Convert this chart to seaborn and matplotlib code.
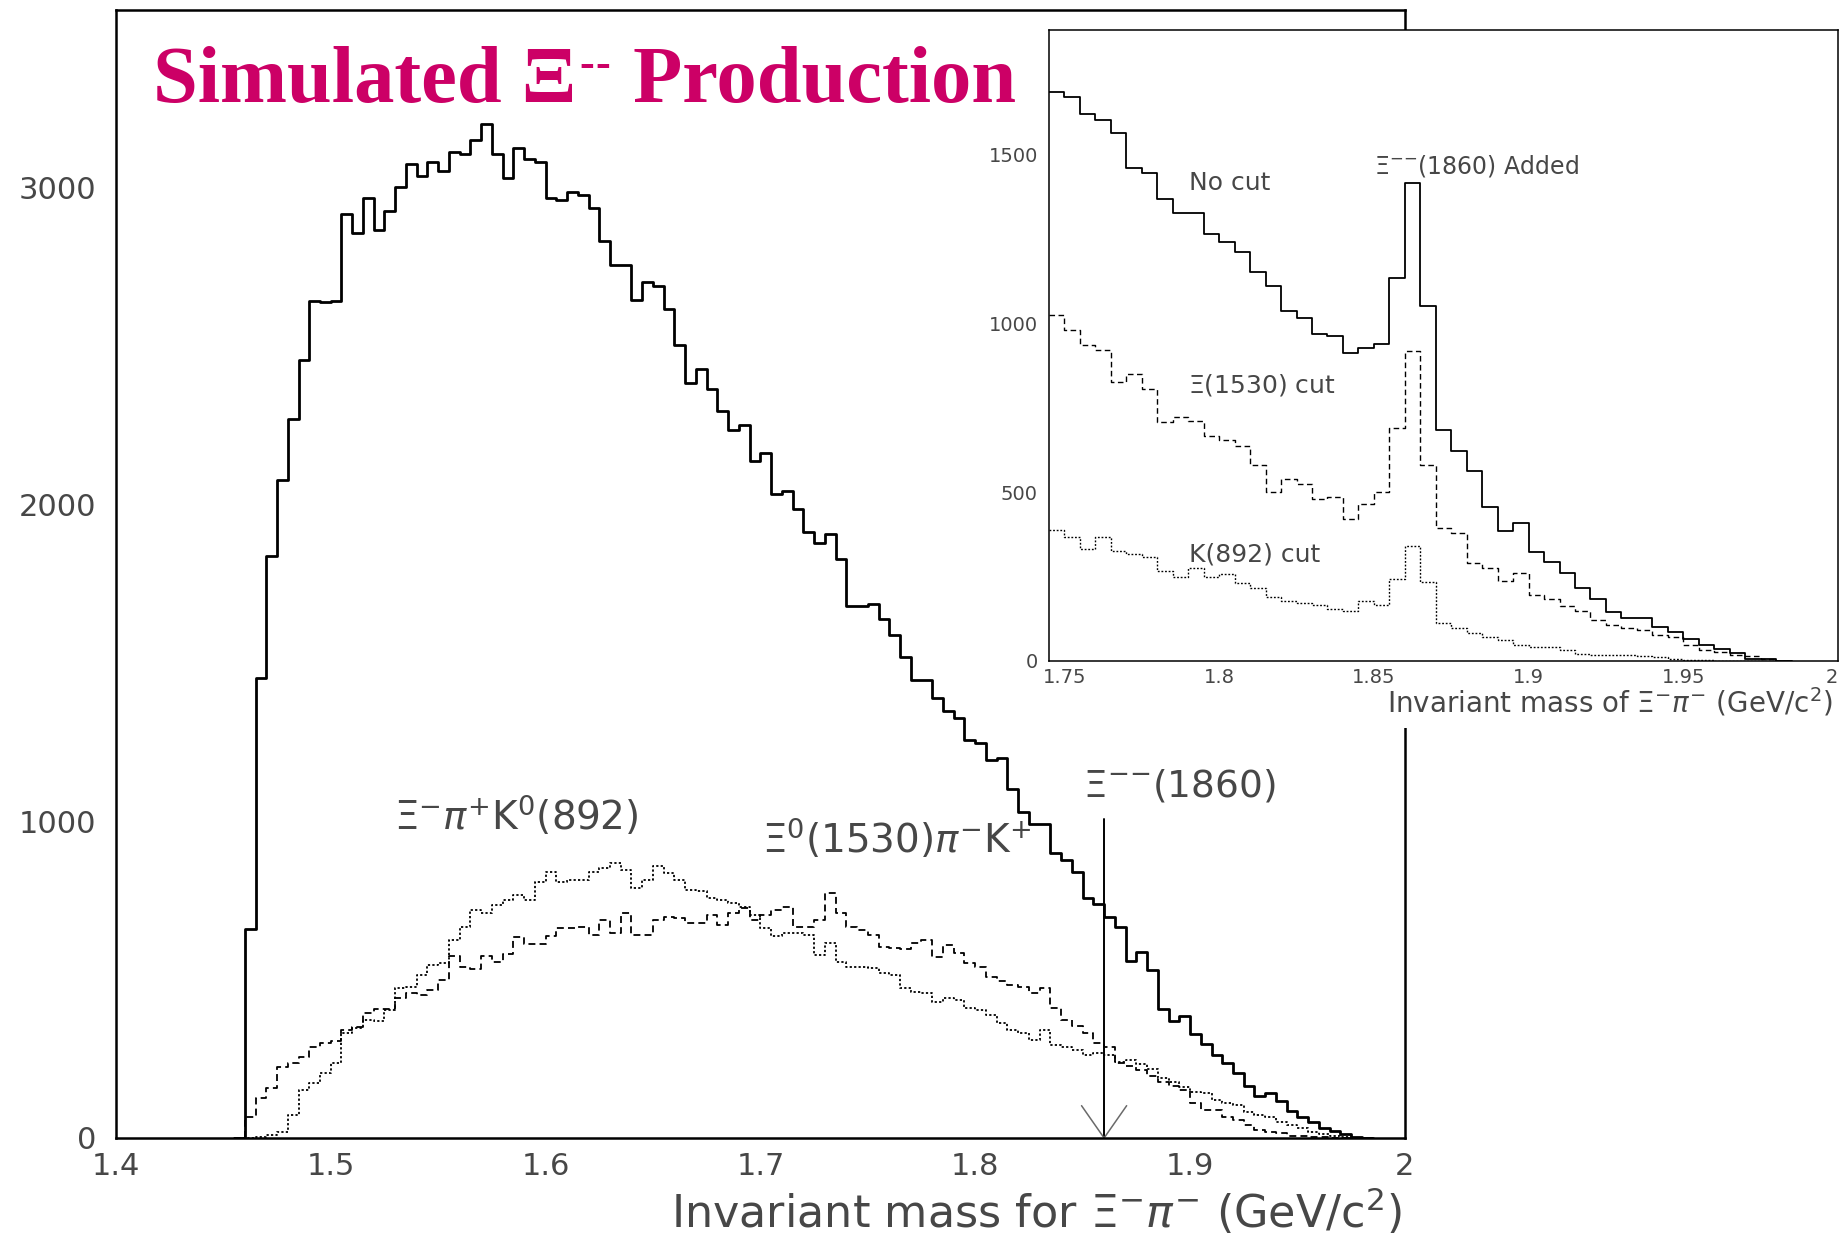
import numpy as np
import pandas as pd
import matplotlib
matplotlib.use("Agg")
import matplotlib.pyplot as plt
import seaborn as sns
from matplotlib.patches import Rectangle

# ---------------- data ----------------
BIN = 0.005                 # GeV/c^2 per bin
MAIN_START = 1.455          # first (empty) bin of the main histograms
INSET_START = 1.745         # first bin of the inset histograms

# main panel: all Xi- pi- combinations
main_no_cut = [
    0, 661, 1453, 1837, 2076, 2268, 2456, 2642, 2637, 2642, 2916,
    2856, 2968, 2866, 2926, 3000, 3074, 3037, 3081, 3053, 3111,
    3105, 3149, 3200, 3105, 3029, 3126, 3089, 3082, 2968, 2961,
    2986, 2977, 2934, 2830, 2756, 2756, 2644, 2703, 2690, 2616,
    2502, 2383, 2427, 2363, 2295, 2234, 2250, 2137, 2161, 2034,
    2041, 1985, 1914, 1879, 1907, 1827, 1679, 1679, 1685, 1638,
    1586, 1519, 1445, 1445, 1388, 1349, 1325, 1256, 1248, 1194,
    1200, 1101, 1028, 990, 990, 898, 878, 840, 756, 737,
    698, 666, 558, 586, 530, 408, 369, 385, 328, 298,
    263, 237, 204, 163, 133, 143, 117, 85, 66, 49,
    33, 21, 12, 4, 0,
]

# Xi0(1530) pi- K+ background (dashed)
main_xi1530 = [
    0, 67, 127, 157, 225, 236, 257, 286, 299, 305, 341,
    351, 393, 406, 406, 441, 457, 450, 467, 500, 573,
    541, 532, 573, 557, 581, 634, 613, 613, 636, 662,
    662, 667, 641, 688, 648, 709, 641, 641, 688, 697,
    693, 678, 678, 704, 673, 709, 725, 688, 704, 720,
    728, 667, 667, 688, 773, 709, 665, 657, 641, 604,
    599, 596, 615, 625, 570, 609, 583, 552, 541, 509,
    494, 483, 478, 459, 473, 410, 373, 352, 330, 299,
    288, 236, 228, 215, 195, 178, 165, 150, 110, 88,
    88, 67, 57, 41, 25, 20, 15, 6, 6, 3,
    2, 1, 0, 0, 0,
]

# Xi- pi+ K0(892) background (dotted)
main_k892 = [
    0, 0, 3, 10, 20, 73, 152, 173, 204, 236, 331,
    346, 373, 368, 404, 473, 478, 515, 546, 552, 625,
    667, 720, 709, 736, 752, 767, 752, 809, 841, 809,
    815, 815, 841, 852, 869, 846, 788, 815, 857, 836,
    815, 783, 778, 757, 752, 741, 730, 704, 662, 636,
    648, 648, 641, 578, 615, 557, 541, 541, 536, 520,
    515, 473, 462, 457, 430, 441, 436, 410, 404, 388,
    362, 341, 330, 309, 341, 294, 286, 278, 262, 268,
    262, 240, 246, 232, 218, 190, 178, 160, 146, 141,
    120, 110, 104, 83, 73, 67, 52, 41, 30, 20,
    12, 6, 4, 0, 0,
]

# inset: signal region with Xi--(1860) added
inset_no_cut = [
    1687, 1670, 1620, 1602, 1565, 1462, 1446, 1368, 1327, 1327,
    1266, 1241, 1212, 1153, 1112, 1037, 1017, 969, 962, 912,
    926, 938, 1135, 1416, 1051, 684, 623, 562, 456, 386,
    410, 322, 293, 262, 215, 184, 145, 126, 126, 102,
    85, 65, 47, 36, 23, 5, 5, 0,
]
inset_xi1530_cut = [
    1024, 980, 935, 922, 826, 849, 806, 708, 724, 711,
    666, 656, 636, 581, 500, 538, 524, 479, 486, 421,
    466, 502, 690, 919, 581, 394, 378, 290, 274, 236,
    261, 194, 183, 163, 148, 120, 108, 97, 92, 76,
    70, 47, 33, 26, 18, 15, 5, 0,
]
inset_k892_cut = [
    388, 366, 333, 368, 326, 316, 308, 268, 249, 274,
    249, 258, 230, 215, 190, 177, 172, 165, 155, 147,
    179, 165, 242, 342, 235, 111, 98, 84, 70, 62,
    48, 42, 40, 32, 20, 18, 17, 18, 16, 12,
    7, 3, 2, 1, 0, 0, 0, 0,
]

main_xticks = [1.4, 1.5, 1.6, 1.7, 1.8, 1.9, 2.0]
main_xticklabels = ["1.4", "1.5", "1.6", "1.7", "1.8", "1.9", "2"]
main_yticks = [0, 1000, 2000, 3000]
inset_xticks = [1.75, 1.8, 1.85, 1.9, 1.95, 2.0]
inset_xticklabels = ["1.75", "1.8", "1.85", "1.9", "1.95", "2"]
inset_yticks = [0, 500, 1000, 1500]
signal_mass = 1.86

# ---------------- style ----------------
sns.set_style("white")
plt.rcParams.update({
    "font.family": ["DejaVu Sans"],
    "mathtext.fontset": "dejavusans",
    "lines.scale_dashes": False,
    "axes.edgecolor": "black",
    "xtick.color": "black",
    "ytick.color": "black",
})
TXT = "#474747"
TITLE_C = "#CC0066"
XIMM = r"$\Xi^{{-}{-}}$"


def step_hist(ax, counts, start, **kw):
    n = len(counts)
    df = pd.DataFrame({
        "mass": start + BIN * (np.arange(n) + 0.5),
        "count": counts,
    })
    edges = [start + BIN * i for i in range(n + 1)]
    sns.histplot(data=df, x="mass", weights="count", bins=edges,
                 element="step", fill=False, ax=ax, **kw)


fig = plt.figure(figsize=(18.4, 12.41), dpi=100)

# ---------------- main panel ----------------
ax = fig.add_axes([0.0630, 0.0830, 0.7005, 0.9089], zorder=1)
step_hist(ax, main_k892, MAIN_START, color="black", linewidth=1.3,
          linestyle=(0, (1.6, 1.6)))
step_hist(ax, main_xi1530, MAIN_START, color="black", linewidth=1.3,
          linestyle=(0, (5, 3)))
step_hist(ax, main_no_cut, MAIN_START, color="black", linewidth=2.0)

ax.set_xlim(1.4, 2.0)
ax.set_ylim(0, 3560)
ax.set_xticks(main_xticks)
ax.set_xticklabels(main_xticklabels)
ax.set_yticks(main_yticks)
ax.set_yticklabels([str(v) for v in main_yticks])
ax.tick_params(direction="in", length=19, width=1.5, labelsize=22,
               labelcolor=TXT)
ax.tick_params(axis="y", pad=14)
ax.tick_params(axis="x", pad=10)
ax.set_xlabel("")
ax.set_ylabel("")
for s in ax.spines.values():
    s.set_visible(True)
    s.set_linewidth(1.8)
    s.set_color("black")

# marker for the Xi--(1860) position
ax.plot([signal_mass, signal_mass], [0, 1008], color="black", lw=1.4)
ax.plot([signal_mass - 0.0105, signal_mass, signal_mass + 0.0105],
        [102, 0, 102], color="#6a6a6a", lw=1.1)

ax.text(1.5295, 973, r"$\Xi^{-}\pi^{+}$K$^{0}$(892)", fontsize=28,
        color=TXT, va="baseline", ha="left")
ax.text(1.7009, 901, r"$\Xi^{0}$(1530)$\pi^{-}$K$^{+}$", fontsize=28,
        color=TXT, va="baseline", ha="left")
ax.text(1.8501, 1077, XIMM + "(1860)", fontsize=27,
        color=TXT, va="baseline", ha="left")

fig.text(1402 / 1840, (1241 - 1228) / 1241,
         r"Invariant mass for $\Xi^{-}\pi^{-}$ (GeV/c$^{2}$)",
         fontsize=32, color=TXT, ha="right", va="baseline")

# white band under the inset (hides the main frame behind its labels)
fig.patches.append(Rectangle((1040 / 1840, (1241 - 728) / 1241),
                             800 / 1840, 67 / 1241,
                             transform=fig.transFigure, facecolor="white",
                             edgecolor="none", zorder=2))

# ---------------- inset ----------------
ins = fig.add_axes([0.5701, 0.4674, 0.4288, 0.5085], zorder=3)
ins.set_facecolor("white")
step_hist(ins, inset_k892_cut, INSET_START, color="black", linewidth=1.0,
          linestyle=(0, (1.3, 1.3)))
step_hist(ins, inset_xi1530_cut, INSET_START, color="black", linewidth=1.0,
          linestyle=(0, (4, 2.5)))
step_hist(ins, inset_no_cut, INSET_START, color="black", linewidth=1.3)
ins.set_xlim(1.745, 2.0)
ins.set_ylim(0, 1870)
ins.set_xticks(inset_xticks)
ins.set_xticklabels(inset_xticklabels)
ins.set_yticks(inset_yticks)
ins.set_yticklabels([str(v) for v in inset_yticks])
ins.tick_params(direction="in", length=11, width=1.1, labelsize=14,
                labelcolor=TXT)
ins.tick_params(axis="y", pad=8)
ins.tick_params(axis="x", pad=5)
# the last label sits at the figure edge: keep it inside
ins.get_xticklabels()[-1].set_horizontalalignment("right")
ins.set_xlabel("")
ins.set_ylabel("")
for s in ins.spines.values():
    s.set_visible(True)
    s.set_linewidth(1.1)
    s.set_color("black")

ins.text(1.7903, 1396, "No cut", fontsize=18, color=TXT, va="baseline")
ins.text(1.8502, 1445, XIMM + "(1860) Added", fontsize=17,
         color=TXT, va="baseline")
ins.text(1.7900, 797, r"$\Xi$(1530) cut", fontsize=18, color=TXT,
         va="baseline")
ins.text(1.7903, 294, "K(892) cut", fontsize=18, color=TXT,
         va="baseline")
fig.text(1833 / 1840, (1241 - 713) / 1241,
         r"Invariant mass of $\Xi^{-}\pi^{-}$ (GeV/c$^{2}$)",
         fontsize=20, color=TXT, ha="right", va="baseline", zorder=4)

# ---------------- title ----------------
renderer = fig.canvas.get_renderer()
W, H = fig.bbox.width, fig.bbox.height
base_y = (1241 - 102) / 1241
tfont = dict(family="Liberation Serif", fontweight="bold", color=TITLE_C,
             va="baseline", ha="left", zorder=5)
t1 = fig.text(153 / W, base_y, "Simulated \u039e", fontsize=58, **tfont)
bb = t1.get_window_extent(renderer=renderer)
x_next = bb.x1 + 3
for _ in range(2):
    tm = fig.text(x_next / W, base_y + 25 / H, "-", fontsize=32, **tfont)
    bb = tm.get_window_extent(renderer=renderer)
    x_next = bb.x1 + 1
fig.text((x_next + 2) / W, base_y, " Production", fontsize=58, **tfont)

fig.savefig("out.png", dpi=100)
